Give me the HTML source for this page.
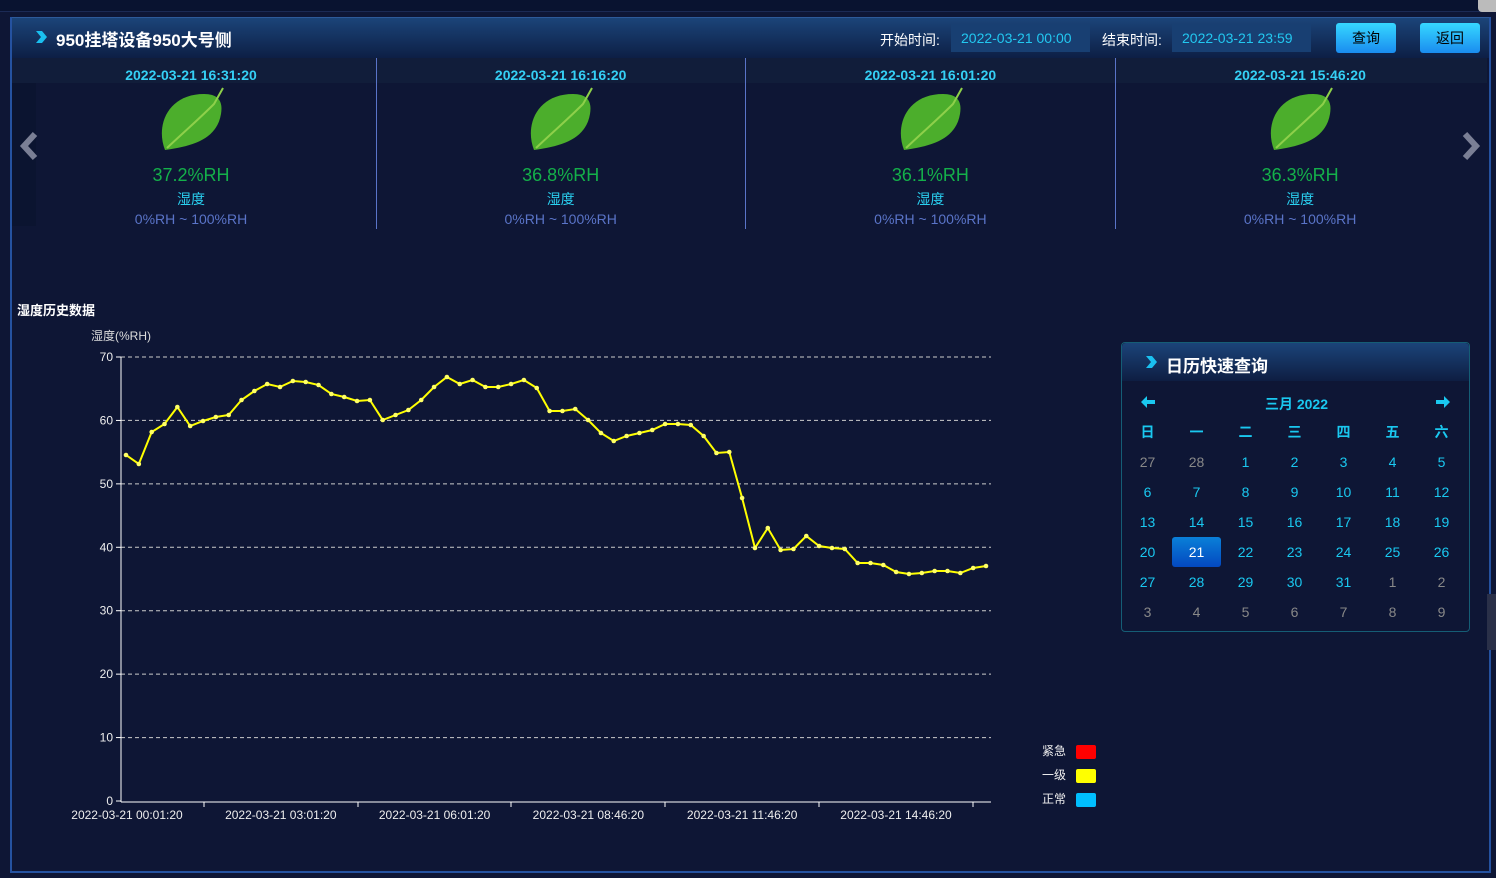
<!DOCTYPE html>
<html><head><meta charset="utf-8">
<style>
*{margin:0;padding:0;box-sizing:border-box}
body{width:1496px;height:878px;background:#0e1635;font-family:"Liberation Sans","Noto Sans CJK SC",sans-serif;position:relative;overflow:hidden;color:#fff}
.abs{position:absolute}
.topbar{left:0;top:0;width:1496px;height:12px;background:#091330;border-bottom:1px solid #1b2a55}
.frame{left:10px;top:17px;width:1481px;height:856px;border:2px solid #2552a0;border-top:none}
.head{left:12px;top:17px;width:1477px;height:41px;background:linear-gradient(#1b4479,#0d1f45);border-top:1px solid #2d5a9a}
.title{left:56px;top:27px;font-size:17px;font-weight:bold}
.lbl{font-size:14px;color:#fff}
.inp{height:28px;background:#183f72;color:#22c8f0;font-size:14px;line-height:28px;padding-left:10px}
.btn{height:30px;width:60px;border-radius:3px;background:linear-gradient(#36d8ff,#1a8cf0);color:#000;font-size:14px;text-align:center;line-height:30px}
.strip{left:12px;top:58px;width:1475px;height:25px;background:#111d3a}
.card{width:369px;top:58px;height:170px;text-align:center}
.card .t{font-size:14px;font-weight:bold;color:#35d0f5;margin-top:9px}
.card .v{font-size:18px;color:#14b04a;margin-top:82px}
.card .n{font-size:14px;color:#2ad0f0;margin-top:3px}
.card .r{font-size:14px;color:#5a74c8;margin-top:2px}
.sep{top:58px;width:1px;height:171px;background:#5a74c8}
.cal{left:1121px;top:342px;width:349px;height:290px;border:1px solid #155d75;border-radius:4px;background:#0e1635}
.calh{height:38px;background:linear-gradient(#1b4479,#0e1e42);border-radius:4px 4px 0 0}
.cal table{position:absolute;left:1px;top:74px;border-collapse:collapse}
.cal td{width:49px;height:30px;text-align:center;font-size:14px;color:#1ac8f0}
.cal td.g{color:#888}
</style></head><body>
<div class="abs topbar"></div>
<div class="abs" style="left:1478px;top:0;width:18px;height:12px;background:#bbb;border-radius:0 0 0 4px"></div>
<div class="abs frame"></div>
<div class="abs head"></div>
<svg class="abs" style="left:34px;top:30px" width="14" height="14"><path d="M2 1 L8 1 L13 7 L8 13 L2 13 L7 7Z" fill="#1ac0f0"/></svg>
<div class="abs title" style="top:26px">950挂塔设备950大号侧</div>
<div class="abs lbl" style="left:880px;top:30px">开始时间:</div>
<div class="abs inp" style="left:951px;top:24px;width:139px">2022-03-21 00:00</div>
<div class="abs lbl" style="left:1102px;top:30px">结束时间:</div>
<div class="abs inp" style="left:1172px;top:24px;width:139px">2022-03-21 23:59</div>
<div class="abs btn" style="left:1336px;top:23px">查询</div>
<div class="abs btn" style="left:1420px;top:23px">返回</div>
<div class="abs strip"></div>
<div class="abs" style="left:12px;top:83px;width:24px;height:143px;background:#0b1430"></div>
<svg class="abs" style="left:18px;top:131px" width="24" height="30"><polyline points="17,3 6,15 17,27" fill="none" stroke="#7a7f95" stroke-width="6"/></svg>
<svg class="abs" style="left:1460px;top:131px" width="24" height="30"><polyline points="5,3 16,15 5,27" fill="none" stroke="#7a7f95" stroke-width="6"/></svg>
<div id="cards"></div>
<div class="abs" style="left:17px;top:300px;font-size:13px;font-weight:bold">湿度历史数据</div>
<svg class="abs" style="left:0;top:0" width="1496" height="878" id="ch">
<text x="91" y="340" fill="#ddd" font-size="12" font-family="Liberation Sans,Noto Sans CJK SC,sans-serif">湿度(%RH)</text>
<g id="grid"></g>
<polyline id="pl" fill="none" stroke="#ffff00" stroke-width="2"/>
<g id="dots"></g>
<text x="1042" y="755" fill="#eee" font-size="12" font-family="Noto Sans CJK SC,sans-serif">紧急</text>
<rect x="1076" y="745" width="20" height="14" rx="2" fill="#ff0000"/>
<text x="1042" y="779" fill="#eee" font-size="12" font-family="Noto Sans CJK SC,sans-serif">一级</text>
<rect x="1076" y="769" width="20" height="14" rx="2" fill="#ffff00"/>
<text x="1042" y="803" fill="#eee" font-size="12" font-family="Noto Sans CJK SC,sans-serif">正常</text>
<rect x="1076" y="793" width="20" height="14" rx="2" fill="#00bfff"/>
</svg>
<div class="abs cal">
<div class="calh"></div>
<svg class="abs" style="left:22px;top:12px" width="14" height="14"><path d="M2 1 L8 1 L13 7 L8 13 L2 13 L7 7Z" fill="#1ac0f0"/></svg>
<div class="abs" style="left:44px;top:9px;font-size:17px;font-weight:bold">日历快速查询</div>
<svg class="abs" style="left:18px;top:52px" width="16" height="14"><path d="M1 7 L7 1 L7 5 L15 5 L15 9 L7 9 L7 13Z" fill="#1ac8f0"/></svg>
<svg class="abs" style="left:313px;top:52px" width="16" height="14"><path d="M15 7 L9 1 L9 5 L1 5 L1 9 L9 9 L9 13Z" fill="#1ac8f0"/></svg>
<div class="abs" style="left:0;width:349px;top:51px;text-align:center;color:#1ac8f0;font-size:14px;font-weight:bold">三月 2022</div>
<table id="tb"></table>
</div>
<div class="abs" style="left:1487px;top:594px;width:9px;height:56px;background:#2a3048"></div>
<script>
var c='';
var ts=['2022-03-21 16:31:20','2022-03-21 16:16:20','2022-03-21 16:01:20','2022-03-21 15:46:20'];
var vs=['37.2','36.8','36.1','36.3'];
for(var i=0;i<4;i++){var l=6.5+i*369.7;
c+='<div class="abs card" style="left:'+l+'px"><div class="t">'+ts[i]+'</div>'+
'<svg class="abs" style="left:152px;top:26px" width="72" height="72"><path d="M6 66 C-4 40 10 10 45 10 C60 10 64 18 62 30 C58 54 36 62 6 66Z" fill="#4cae2c"/><path d="M8 64 C25 48 40 35 55 20 L64 4" stroke="#8ed04a" stroke-width="2" fill="none"/></svg>'+
'<div class="v">'+vs[i]+'%RH</div><div class="n">湿度</div><div class="r">0%RH ~ 100%RH</div></div>';
if(i>0)c+='<div class="abs sep" style="left:'+(6+i*369.7)+'px"></div>';}
document.getElementById('cards').innerHTML=c;
var g='',ns='font-family="Liberation Sans,sans-serif"';
for(var v=0;v<=70;v+=10){var y=801-v*444/70;
if(v>0)g+='<line x1="121" x2="991" y1="'+y+'" y2="'+y+'" stroke="#ccc" stroke-dasharray="4,3" stroke-width="1"/>';
g+='<line x1="116" x2="121" y1="'+y+'" y2="'+y+'" stroke="#fff"/><text x="113" y="'+(y+4)+'" fill="#eee" font-size="12" text-anchor="end" '+ns+'>'+v+'</text>';}
g+='<line x1="121" x2="121" y1="357" y2="802" stroke="#fff"/><line x1="121" x2="991" y1="802" y2="802" stroke="#fff"/>';
[204,358,511,665,819,973].forEach(function(x){g+='<line x1="'+x+'" x2="'+x+'" y1="802" y2="807" stroke="#fff"/>'});
['00:01:20','03:01:20','06:01:20','08:46:20','11:46:20','14:46:20'].forEach(function(t,k){g+='<text x="'+(127+k*153.8)+'" y="819" fill="#eee" font-size="12" text-anchor="middle" '+ns+'>2022-03-21 '+t+'</text>'});
document.getElementById('grid').innerHTML=g;
var ys=[455,464,432,424,407,426,421,417,415,400,391,384,387,381,382,385,394,397,401,400,420,415,410,400,387,377,384,380,387,387,384,380,388,411,411,409,420,433,441,436,433,430,424,424,425,436,453,452,498,548,528,550,549,536,546,548,549,563,563,565,572,574,573,571,571,573,568,566];
var pts='',d='';ys.forEach(function(y,k){var x=126+k*(860/67);pts+=x+','+y+' ';d+='<circle cx="'+x+'" cy="'+y+'" r="2.3" fill="#ffff66"/>'});
document.getElementById('pl').setAttribute('points',pts);document.getElementById('dots').innerHTML=d;
var tb='<tr>'+['日','一','二','三','四','五','六'].map(function(x){return '<td style="font-weight:bold">'+x+'</td>'}).join('')+'</tr>';
var days=[27,28];for(var i=1;i<=31;i++)days.push(i);for(i=1;i<=9;i++)days.push(i);
for(var r=0;r<6;r++){tb+='<tr>';for(var k=0;k<7;k++){var idx=r*7+k,dd=days[idx],gr=idx<2||idx>32;
if(idx==22)tb+='<td style="color:#fff"><div style="margin:0 auto;width:49px;height:30px;line-height:30px;border-radius:3px;background:linear-gradient(#0a80d8,#0348c0)">21</div></td>';
else tb+='<td'+(gr?' class="g"':'')+'>'+dd+'</td>';}tb+='</tr>';}
document.getElementById('tb').innerHTML=tb;
</script>
</body></html>
